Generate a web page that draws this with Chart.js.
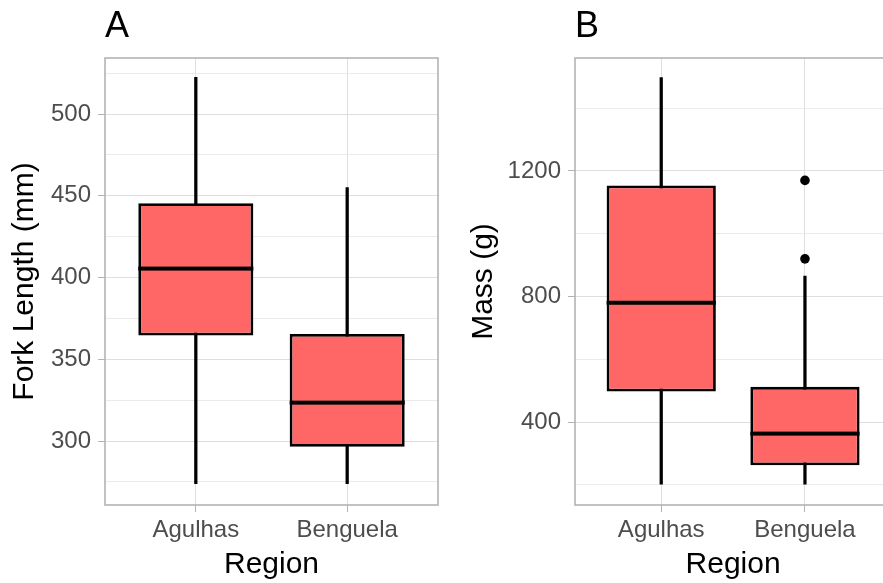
<!DOCTYPE html>
<html>
<head>
<meta charset="utf-8">
<script src="https://cdn.jsdelivr.net/npm/chart.js@4"></script>
<style>
    html, body { margin: 0; padding: 0; background: #fff; overflow: hidden; width: 883px; height: 583px; }
    #painelA { position: absolute; left: 0; top: 0; }
    #painelB { position: absolute; left: 440px; top: 0; }
</style>
</head>
<body>
<canvas id="painelA" width="440" height="583"></canvas>
<canvas id="painelB" width="456" height="583"></canvas>
<script>
var regioes = ['Agulhas', 'Benguela'];

// A - Fork Length (mm)
var comprMin = [274, 274];
var comprQ1 = [364.5, 296.5];
var comprMediana = [405.5, 323.5];
var comprQ3 = [445.5, 365.5];
var comprMax = [522.5, 455];
var comprTicks = [275, 300, 325, 350, 375, 400, 425, 450, 475, 500, 525];
var comprRotulos = [300, 350, 400, 450, 500];

// B - Mass (g)
var massaMin = [202, 202];
var massaQ1 = [497, 262];
var massaMediana = [780, 363];
var massaQ3 = [1154, 512];
var massaMax = [1498, 865];
var massaOutlierRegiao = ['Benguela', 'Benguela'];
var massaOutlier = [1170, 920];
var massaTicks = [200, 400, 600, 800, 1000, 1200, 1400];
var massaRotulos = [400, 800, 1200];

var fonte = '"Liberation Sans", Arial, sans-serif';

var pluginPainel = {
    id: 'painel',
    beforeDatasetsDraw: function (chart) {
        var a = chart.chartArea;
        var ctx = chart.ctx;
        ctx.save();
        ctx.strokeStyle = '#B3B3B3';
        ctx.lineWidth = 1.6;
        ctx.strokeRect(a.left, a.top, a.right - a.left, a.bottom - a.top);
        ctx.restore();
    },
    afterDatasetsDraw: function (chart, args, opts) {
        var ctx = chart.ctx;
        var caixas = chart.getDatasetMeta(0).data;
        ctx.save();
        ctx.fillStyle = '#000';
        for (var i = 0; i < caixas.length; i++) {
            var y = chart.scales.y.getPixelForValue(opts.medianas[i]);
            ctx.fillRect(caixas[i].x - caixas[i].width / 2, y - 2, caixas[i].width, 4);
        }
        ctx.font = '36px ' + fonte;
        ctx.textBaseline = 'alphabetic';
        ctx.fillText(opts.letra, chart.chartArea.left, 37);
        ctx.restore();
    }
};

function PegarPontos(valoresA, valoresB) {
    var pontos = [];
    for (var i = 0; i < regioes.length; i++) {
        pontos.push({ x: i + 1, y: [valoresA[i], valoresB[i]] });
    }
    return pontos;
}

function MontarPainel(id, c) {
    var outliers = [];
    for (var i = 0; i < c.outlierRegiao.length; i++) {
        outliers.push({ x: regioes.indexOf(c.outlierRegiao[i]) + 1, y: c.outlier[i] });
    }

    return new Chart(document.getElementById(id), {
        type: 'bar',
        data: {
            datasets: [
                {
                    data: PegarPontos(c.q1, c.q3),
                    backgroundColor: '#FF6666',
                    borderColor: '#000',
                    borderWidth: 2.8,
                    borderSkipped: false,
                    barPercentage: 0.76,
                    categoryPercentage: 1,
                    grouped: false,
                    order: 1
                },
                {
                    data: PegarPontos(c.min, c.max),
                    backgroundColor: '#000',
                    barThickness: 2.6,
                    grouped: false,
                    order: 2
                },
                {
                    type: 'scatter',
                    data: outliers,
                    pointRadius: 4.8,
                    pointBackgroundColor: '#000',
                    pointBorderWidth: 0,
                    order: 0
                }
            ]
        },
        options: {
            responsive: false,
            animation: false,
            devicePixelRatio: 1,
            layout: { padding: { left: 0, top: 58, right: 2, bottom: 0 } },
            plugins: {
                legend: { display: false },
                tooltip: { enabled: false },
                painel: { letra: c.letra, medianas: c.mediana }
            },
            scales: {
                x: {
                    type: 'linear',
                    min: 0.4,
                    max: 2.6,
                    offset: false,
                    afterBuildTicks: function (s) { s.ticks = [{ value: 1 }, { value: 2 }]; },
                    afterFit: function (s) { s.height = 78; },
                    ticks: {
                        autoSkip: false,
                        maxRotation: 0,
                        padding: 4,
                        color: '#4D4D4D',
                        font: { family: fonte, size: 24 },
                        callback: function (v) { return regioes[v - 1]; }
                    },
                    grid: { offset: false, color: '#DEDEDE', lineWidth: 1, tickColor: '#B3B3B3', tickLength: 7 },
                    border: { display: false },
                    title: {
                        display: true,
                        text: 'Region',
                        color: '#000',
                        font: { family: fonte, size: 30 },
                        padding: { top: 0, bottom: 0 }
                    }
                },
                y: {
                    type: 'linear',
                    min: c.yMin,
                    max: c.yMax,
                    afterBuildTicks: function (s) {
                        s.ticks = c.ticks.map(function (v) { return { value: v }; });
                    },
                    afterFit: function (s) { s.width = c.larguraY; },
                    ticks: {
                        autoSkip: false,
                        padding: 7,
                        color: '#4D4D4D',
                        font: { family: fonte, size: 24 },
                        callback: function (v) { return c.rotulos.indexOf(v) >= 0 ? String(v) : ''; }
                    },
                    grid: {
                        color: function (ctx) { return c.rotulos.indexOf(ctx.tick.value) >= 0 ? '#DEDEDE' : '#EBEBEB'; },
                        lineWidth: 1,
                        tickColor: function (ctx) { return c.rotulos.indexOf(ctx.tick.value) >= 0 ? '#B3B3B3' : 'rgba(0,0,0,0)'; },
                        tickLength: 7
                    },
                    border: { display: false },
                    title: {
                        display: true,
                        text: c.tituloY,
                        color: '#000',
                        font: { family: fonte, size: 30 },
                        padding: { top: c.tituloPad, bottom: 0 }
                    }
                }
            }
        },
        plugins: [pluginPainel]
    });
}

MontarPainel('painelA', {
    letra: 'A', tituloY: 'Fork Length (mm)', tituloPad: 7, larguraY: 105,
    yMin: 260.9, yMax: 534.3, ticks: comprTicks, rotulos: comprRotulos,
    min: comprMin, q1: comprQ1, mediana: comprMediana, q3: comprQ3, max: comprMax,
    outlierRegiao: [], outlier: []
});

MontarPainel('painelB', {
    letra: 'B', tituloY: 'Mass (g)', tituloPad: 26, larguraY: 135,
    yMin: 135.5, yMax: 1560, ticks: massaTicks, rotulos: massaRotulos,
    min: massaMin, q1: massaQ1, mediana: massaMediana, q3: massaQ3, max: massaMax,
    outlierRegiao: massaOutlierRegiao, outlier: massaOutlier
});
</script>
</body>
</html>
